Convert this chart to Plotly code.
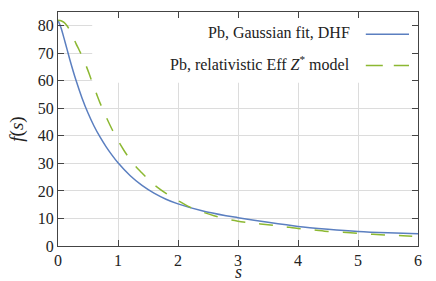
import plotly.graph_objects as go

# Data
s_dhf = [0, 0.05, 0.1, 0.15, 0.2, 0.3, 0.4, 0.5, 0.6, 0.7, 0.8, 0.9, 1.0,
         1.2, 1.4, 1.6, 1.8, 2.0, 2.4, 2.8, 3.0, 3.5, 4.0, 4.5, 5.0, 5.5, 6.0]
f_dhf = [82, 79.3, 75.5, 71.5, 67.5, 60.2, 53.8, 48.3, 43.6, 39.6, 36.1, 33.0, 30.2,
         25.6, 22.0, 19.2, 17.0, 15.3, 12.8, 11.0, 10.3, 8.6, 7.1, 6.1, 5.3, 4.8, 4.45]

s_eff = [0, 0.05, 0.1, 0.15, 0.2, 0.25, 0.3, 0.35, 0.4, 0.45, 0.5, 0.55, 0.6, 0.65,
         0.7, 0.8, 0.9, 1.0, 1.1, 1.2, 1.3, 1.4, 1.5, 1.6, 1.8, 2.0, 2.2, 2.4, 2.6,
         2.8, 3.0, 3.25, 3.5, 3.75, 4.0, 4.25, 4.5, 4.75, 5.0, 5.25, 5.5, 5.75, 6.0]
f_eff = [82, 81.8, 81.2, 80, 78.2, 76, 73.5, 71.3, 69, 66.5, 63.7, 60.7, 57.7, 54.8,
         52.0, 47.0, 42.4, 38.3, 34.7, 31.5, 28.8, 26.5, 24.3, 22.3, 19.1, 16.5, 14.1,
         12.4, 11.0, 9.8, 9.0, 8.3, 7.7, 7.1, 6.4, 5.9, 5.3, 5.0, 4.6, 4.25, 3.95, 3.7, 3.4]

names = ["Pb, Gaussian fit, DHF", "Pb, relativistic Eff <i>Z</i><sup>*</sup> model"]
colors = ["#5b7fc0", "#8cb832"]

x_ticks = [0, 1, 2, 3, 4, 5, 6]
y_ticks = [0, 10, 20, 30, 40, 50, 60, 70, 80]

FONT = "Liberation Serif"

fig = go.Figure()
fig.add_trace(go.Scatter(x=s_dhf, y=f_dhf, mode="lines", name=names[0],
                         line=dict(color=colors[0], width=1.5, shape="spline", smoothing=0.8),
                         showlegend=False))
fig.add_trace(go.Scatter(x=s_eff, y=f_eff, mode="lines", name=names[1],
                         line=dict(color=colors[1], width=1.5, dash="14px,14px",
                                   shape="spline", smoothing=0.8),
                         showlegend=False))

# Legend box (gnuplot style: text then sample at right)
fig.add_shape(type="rect", xref="x", yref="y", x0=0.57, x1=6, y0=59.3, y1=85,
              fillcolor="white", line=dict(width=0), layer="between")
leg_y_text = [77.7, 66.3]
leg_y_line = [76.9, 65.6]
dashes = ["solid", "17px,11px"]
for i in range(2):
    fig.add_annotation(x=4.9, y=leg_y_text[i], xref="x", yref="y", text=names[i],
                       showarrow=False, xanchor="right", yanchor="middle",
                       font=dict(family=FONT, size=16, color="#222"))
    fig.add_shape(type="line", xref="x", yref="y", x0=5.13, x1=5.85,
                  y0=leg_y_line[i], y1=leg_y_line[i],
                  line=dict(color=colors[i], width=1.5, dash=dashes[i]))

# x-axis title placed as an annotation just below the tick labels
fig.add_annotation(x=0.5, y=-0.11, xref="paper", yref="paper", text="<i>s</i>",
                   showarrow=False, xanchor="center", yanchor="middle",
                   font=dict(family=FONT, size=18, color="#222"))

axis_common = dict(showline=True, linecolor="#444", linewidth=1.2, mirror="ticks",
                   ticks="inside", ticklen=6, tickcolor="#444", tickwidth=1,
                   showgrid=True, gridcolor="#dcdcdc", gridwidth=1, zeroline=False,
                   automargin=False,
                   tickfont=dict(family=FONT, size=16, color="#222"))

fig.update_xaxes(range=[0, 6], tickvals=x_ticks, **axis_common)
fig.update_yaxes(range=[0, 85], tickvals=y_ticks, **axis_common,
                 title=dict(text="<i>f</i>(<i>s</i>)", font=dict(family=FONT, size=19, color="#222"), standoff=9))

fig.update_layout(width=436, height=281, margin=dict(l=58, r=18, t=12, b=35),
                  paper_bgcolor="white", plot_bgcolor="white",
                  font=dict(family=FONT, color="#222"))

fig.write_html("out.html", config={"displayModeBar": False},
               post_script="document.body.style.margin='0';")
